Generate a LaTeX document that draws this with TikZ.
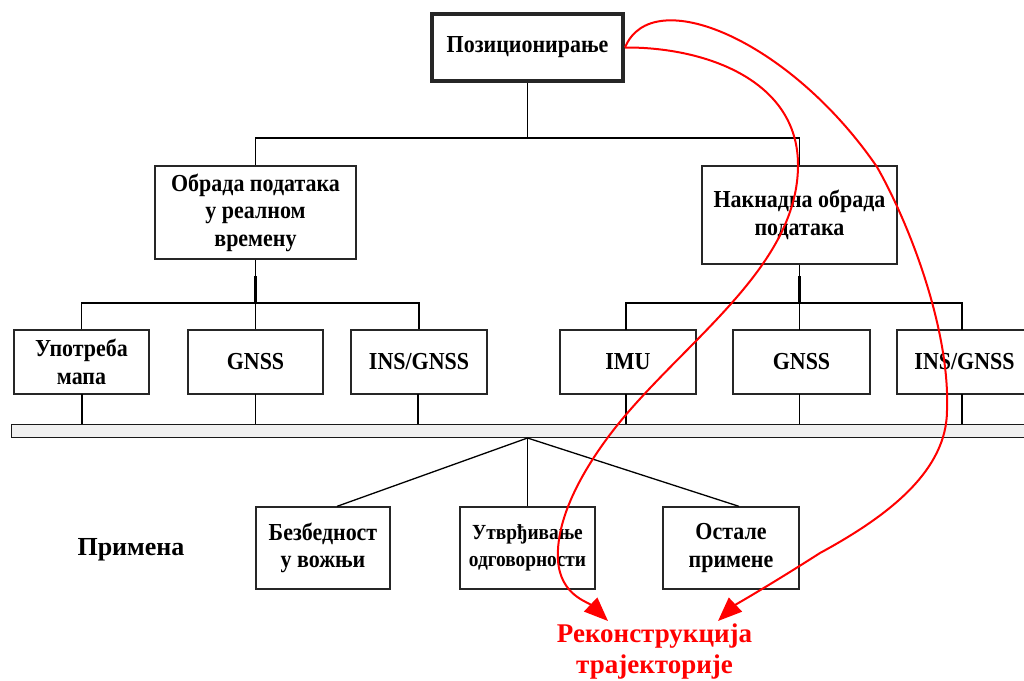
\documentclass[tikz,border=0pt]{standalone}
\usepackage{fontspec}
\setmainfont{Liberation Serif}
\newfontfamily\narrowserif{Liberation Serif}[FakeStretch=0.9]
\usetikzlibrary{arrows.meta,calc}
\newcommand{\boxfont}{\narrowserif\fontsize{24.4}{27.5}\selectfont\bfseries}
\begin{document}
\begin{tikzpicture}[x=1pt,y=-1pt,
  box/.style={draw=black!85, line width=1.3pt, align=center, inner sep=0pt, font=\boxfont, fill=white},
  wire/.style={draw=black, line width=1.3pt},
  redline/.style={draw=red, line width=2pt, -{Triangle[length=24pt,width=19pt]}}]
\useasboundingbox (0,0) rectangle (1024,680);
\begin{scope}
\clip (0,0) rectangle (1024,680);
% top
\node[box, line width=4pt, minimum width=191pt, minimum height=67pt] (top) at (527.5,47.5) {Позиционирање};
% level 2
\node[box, minimum width=201pt, minimum height=93pt] (lt) at (255.5,212.5) {Обрада података\\у реалном\\времену};
\node[box, minimum width=195pt, minimum height=98pt] (rt) at (799.5,215) {Накнадна обрада\\података};
% level 3
\node[box, minimum width=135pt, minimum height=64pt] (a1) at (81.5,362) {Употреба\\мапа};
\node[box, minimum width=135pt, minimum height=64pt] (a2) at (255.5,362) {GNSS};
\node[box, minimum width=136pt, minimum height=64pt] (a3) at (419,362) {INS/GNSS};
\node[box, minimum width=136pt, minimum height=64pt] (b1) at (628,362) {IMU};
\node[box, minimum width=137pt, minimum height=64pt] (b2) at (801.5,362) {GNSS};
\node[box, minimum width=135pt, minimum height=64pt] (b3) at (964.5,362) {INS/GNSS};
% bar
\node[draw=black!90, line width=1.3pt, fill=black!6, minimum width=1030pt, minimum height=13pt, inner sep=0pt, anchor=north west] (bar) at (11,424) {};
% bottom
\node[box, minimum width=134pt, minimum height=82pt] (c1) at (323,548) {Безбедност\\у вожњи};
\node[box, minimum width=135pt, minimum height=82pt, font=\narrowserif\fontsize{21.5}{27}\selectfont\bfseries] (c2) at (527.5,548) {Утврђивање\\одговорности};
\node[box, minimum width=136pt, minimum height=82pt] (c3) at (731,548) {Остале\\примене};
\node[font=\fontsize{26}{30}\selectfont\bfseries, inner sep=0pt] (prim) at (131,550) {Примена};
\node[font=\fontsize{27}{31}\selectfont\bfseries, text=red, align=center, inner sep=0pt] (rek) at (654.5,651) {Реконструкција\\трајекторије};
% connectors level 1-2
\coordinate (j1) at (527.5,138);
\draw[wire] (top.south) -- (j1);
\draw[wire] (lt.north) -- (lt.north |- j1) -- (rt.north |- j1) -- (rt.north);
% connectors level 2-3
\coordinate (j2) at (0,303);
\draw[wire] (lt.south) -- (lt.south |- j2);
\draw[wire, line width=2.4pt] (255.5,276) -- (lt.south |- j2);
\draw[wire] (a1.north) -- (a1.north |- j2) -- (a3.north |- j2) -- (a3.north);
\draw[wire] (a2.north) -- (a2.north |- j2);
\draw[wire] (rt.south) -- (rt.south |- j2);
\draw[wire, line width=2.4pt] (799.5,276) -- (rt.south |- j2);
\draw[wire] (626,330) -- (626,303) -- (962,303) -- (962,330);
\draw[wire] (799.5,303) -- (799.5,330);
% to bar
\foreach \xx in {82,255.5,418,626,799.5,962}{
  \draw[wire] (\xx,394) -- (\xx,424);
}
% bar to bottom
\coordinate (apex) at (527.5,438);
\draw[wire] (apex) -- ($(c1.north)+(14,0)$);
\draw[wire] (apex) -- (c2.north);
\draw[wire] (apex) -- ($(c3.north)+(8,0)$);
% red curves
\coordinate (s) at (top.east);
\coordinate (ta) at (608,621);
\coordinate (tb) at (718,621);
\draw[redline] (s) .. controls (705,47) and (798,80) .. (798,165)
  .. controls (798,260) and (700,330) .. (630,410)
  .. controls (595,450) and (555,510) .. (558,560)
  .. controls (560,595) and (588,602) .. (ta);
\draw[redline] (s) .. controls (652,-18) and (790,40) .. (877,167)
  .. controls (910,225) and (950,330) .. (947,410)
  .. controls (947,470) and (890,515) .. (820,553)
  .. controls (770,585) and (735,605) .. (tb);
\end{scope}
\end{tikzpicture}
\end{document}
